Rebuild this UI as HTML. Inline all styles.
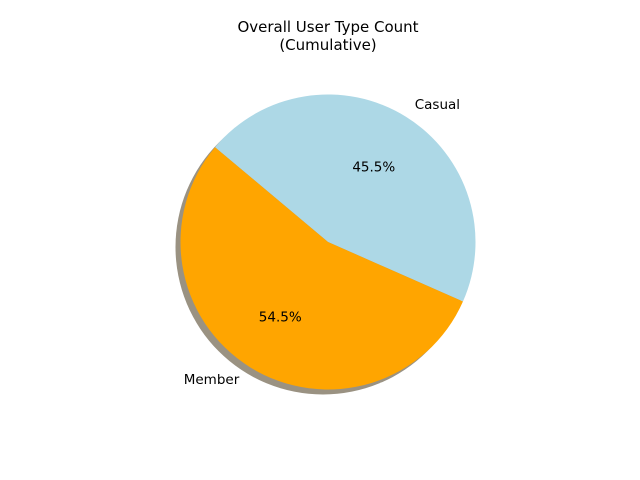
<!DOCTYPE html>
<html><head><meta charset="utf-8"><style>
body{margin:0;background:#fff;}
svg{display:block;font-family:"DejaVu Sans","Liberation Sans",sans-serif;}
</style></head><body>
<svg id="chart" width="640" height="480">
<text x="328" y="32" font-size="15" text-anchor="middle">Overall User Type Count</text>
<text x="328" y="50" font-size="15" text-anchor="middle">(Cumulative)</text>
</svg>
<script>
const categories = ["Casual", "Member"];
const values = [45.5, 54.5];
const colors = ["#add8e6", "#ffa500"];
const svg = document.getElementById('chart');
const NS = "http://www.w3.org/2000/svg";
const cx = 328, cy = 242, r = 147.5, start = 140;
const total = values.reduce((a,b)=>a+b,0);
const shadow = document.createElementNS(NS,'circle');


shadow.setAttribute('cx',cx-5);shadow.setAttribute('cy',cy+5);shadow.setAttribute('r',r);
shadow.setAttribute('fill','#9a9282');
svg.appendChild(shadow);
function pt(a,rr){const t=a*Math.PI/180;return [cx+rr*Math.cos(t),cy-rr*Math.sin(t)];}
let ang = start;
values.forEach((v,i)=>{
  const sweep = v/total*360;
  const a1 = ang, a2 = ang - sweep;
  const [x1,y1]=pt(a1,r),[x2,y2]=pt(a2,r);
  const p = document.createElementNS(NS,'path');
  
  
  p.setAttribute('d',`M${cx},${cy} L${x1},${y1} A${r},${r} 0 ${sweep>180?1:0} 1 ${x2},${y2} Z`);
  p.setAttribute('fill',colors[i]);
  svg.appendChild(p);
  const mid = (a1+a2)/2;
  const [lx,ly]=pt(mid,r*1.1);
  const t = document.createElementNS(NS,'text');
  
  
  t.setAttribute('x',lx>cx?lx+1:lx-3);t.setAttribute('y',ly+4.5);
  t.setAttribute('font-size','13.5');
  t.setAttribute('text-anchor',lx>cx?'start':'end');
  t.textContent=categories[i];
  svg.appendChild(t);
  const [px,py]=pt(mid,r*0.6);
  const pc = document.createElementNS(NS,'text');
  
  
  pc.setAttribute('x',px-1);pc.setAttribute('y',py+4.5);
  pc.setAttribute('font-size','13.5');
  pc.setAttribute('text-anchor','middle');
  pc.textContent=v.toFixed(1)+'%';
  svg.appendChild(pc);
  ang = a2;
});
</script>
</body></html>
